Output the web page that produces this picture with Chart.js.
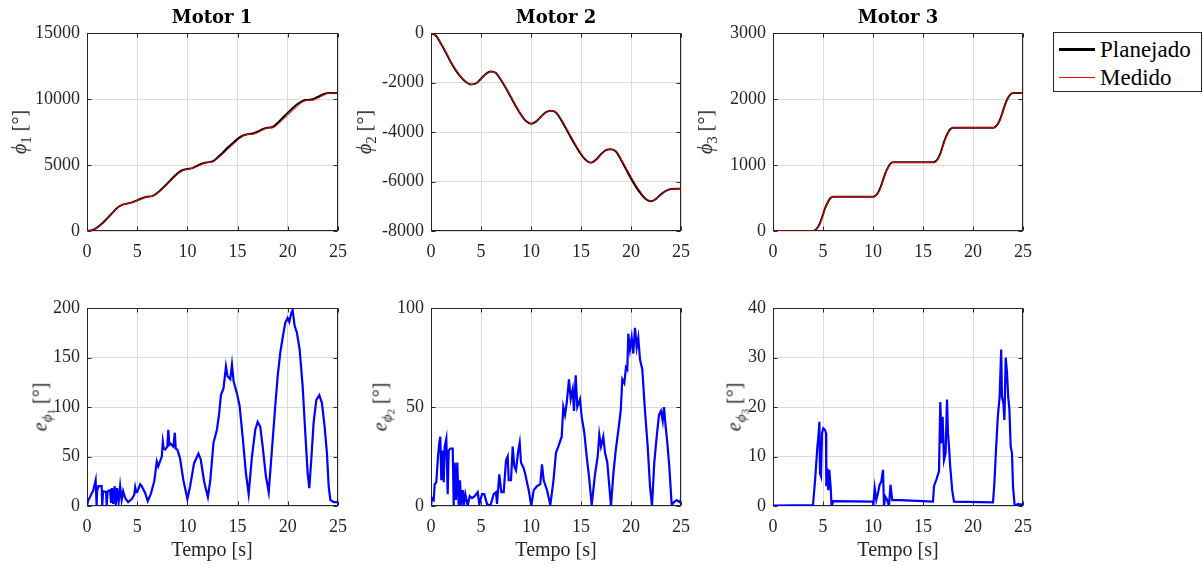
<!DOCTYPE html>
<html><head><meta charset="utf-8">
<script src="https://cdn.jsdelivr.net/npm/chart.js@4/dist/chart.umd.min.js"></script>
<style>
html,body{margin:0;padding:0;background:#fff;}
body{width:1203px;height:565px;position:relative;overflow:hidden;font-family:"Liberation Serif",serif;color:#262626;}
canvas{position:absolute;}
.lbl{position:absolute;white-space:nowrap;line-height:1;transform:translate(-50%,-50%);}
.ttl{font-family:"DejaVu Serif",serif;font-weight:bold;font-size:18px;color:#000;}
.ylab{transform:translate(-50%,-50%) rotate(-90deg);font-size:20px;}
.xlab{font-size:20px;}
sub{font-size:75%;vertical-align:-0.3em;line-height:0;}
#legend{position:absolute;left:1053px;top:32px;width:147px;height:58px;border:1px solid #262626;background:#fff;font-size:23px;color:#000;}
#legend .row{position:absolute;left:0;height:28px;width:100%;}
#legend .ln{position:absolute;left:5px;width:36px;}
#legend .tx{position:absolute;left:46px;top:50%;transform:translateY(-50%);line-height:1;}
</style></head>
<body>
<canvas id="c1" width="350" height="245" style="left:0px;top:20px"></canvas>
<canvas id="c2" width="343" height="245" style="left:350px;top:20px"></canvas>
<canvas id="c3" width="342" height="245" style="left:693px;top:20px"></canvas>
<canvas id="c4" width="350" height="245" style="left:0px;top:295px"></canvas>
<canvas id="c5" width="343" height="245" style="left:350px;top:295px"></canvas>
<canvas id="c6" width="342" height="245" style="left:693px;top:295px"></canvas>

<div class="lbl ttl" style="left:212px;top:17px">Motor 1</div>
<div class="lbl ttl" style="left:556px;top:17px">Motor 2</div>
<div class="lbl ttl" style="left:898px;top:17px">Motor 3</div>

<div class="lbl ylab" style="left:19px;top:132px"><i>ϕ</i><sub>1</sub> [°]</div>
<div class="lbl ylab" style="left:364px;top:132px"><i>ϕ</i><sub>2</sub> [°]</div>
<div class="lbl ylab" style="left:705px;top:132px"><i>ϕ</i><sub>3</sub> [°]</div>
<div class="lbl ylab" style="left:40px;top:407px"><i>e</i><sub><i>ϕ</i><sub>1</sub></sub> [°]</div>
<div class="lbl ylab" style="left:380px;top:407px"><i>e</i><sub><i>ϕ</i><sub>2</sub></sub> [°]</div>
<div class="lbl ylab" style="left:734px;top:407px"><i>e</i><sub><i>ϕ</i><sub>3</sub></sub> [°]</div>

<div class="lbl xlab" style="left:212px;top:549px">Tempo [s]</div>
<div class="lbl xlab" style="left:556px;top:549px">Tempo [s]</div>
<div class="lbl xlab" style="left:898px;top:549px">Tempo [s]</div>

<div id="legend">
  <div class="row" style="top:2px"><div class="ln" style="top:13px;height:3px;background:#000"></div><div class="tx">Planejado</div></div>
  <div class="row" style="top:30px"><div class="ln" style="top:14px;height:1px;background:#f00"></div><div class="tx">Medido</div></div>
</div>

<script>
// ---------- data ----------
const seriesNames = ['Planejado', 'Medido'];
const xTicks = [0, 5, 10, 15, 20, 25];
const yTicks1 = [0, 5000, 10000, 15000];
const yTicks2 = [-8000, -6000, -4000, -2000, 0];
const yTicks3 = [0, 1000, 2000, 3000];
const eTicks1 = [0, 50, 100, 150, 200];
const eTicks2 = [0, 50, 100];
const eTicks3 = [0, 10, 20, 30, 40];

const tPos = [0,0.5,1,1.5,2,2.5,3,3.5,4,4.5,5,5.5,6,6.5,7,7.5,8,8.5,9,9.5,10,10.5,11,11.5,12,12.5,13,13.5,14,14.5,15,15.5,16,16.5,17,17.5,18,18.5,19,19.5,20,20.5,21,21.5,22,22.5,23,23.5,24,24.5,25];

const plan1 = [0,60,250,560,950,1350,1750,1980,2080,2170,2320,2480,2590,2640,2880,3220,3600,3990,4350,4600,4690,4760,4950,5110,5200,5270,5560,5920,6300,6650,6980,7220,7330,7380,7530,7710,7820,7880,8200,8580,8960,9320,9640,9860,9930,9980,10170,10350,10450,10460,10460];
const med1  = [0,55,235,545,940,1340,1735,1970,2075,2160,2305,2465,2585,2630,2850,3170,3530,3930,4290,4570,4685,4740,4900,5070,5190,5230,5480,5810,6170,6520,6870,7150,7320,7330,7450,7650,7810,7830,8070,8420,8780,9130,9480,9780,9910,9910,10060,10260,10430,10455,10455];

const plan2 = [0,-110,-430,-800,-1190,-1520,-1780,-1980,-2080,-2040,-1850,-1650,-1560,-1620,-1900,-2230,-2600,-2970,-3300,-3560,-3670,-3580,-3380,-3200,-3140,-3210,-3500,-3860,-4230,-4580,-4900,-5140,-5240,-5120,-4900,-4730,-4700,-4790,-5120,-5500,-5880,-6220,-6500,-6720,-6800,-6700,-6520,-6380,-6300,-6290,-6290];
const med2  = [0,-100,-410,-775,-1165,-1500,-1770,-1975,-2080,-2050,-1860,-1665,-1565,-1610,-1875,-2205,-2570,-2940,-3275,-3545,-3670,-3590,-3395,-3210,-3140,-3195,-3465,-3810,-4170,-4530,-4860,-5120,-5240,-5135,-4925,-4745,-4700,-4770,-5080,-5440,-5800,-6140,-6440,-6690,-6800,-6720,-6540,-6395,-6300,-6292,-6292];

const t3 = [0,4,4.25,4.5,4.75,5,5.25,5.5,5.75,6,10,10.25,10.5,10.75,11,11.25,11.5,11.75,12,16,16.25,16.5,16.75,17,17.25,17.5,17.75,18,22,22.25,22.5,22.75,23,23.25,23.5,23.75,24,25];
const plan3 = [0,0,15,60,140,250,360,440,500,520,520,535,580,660,770,880,960,1020,1040,1040,1055,1100,1180,1300,1410,1490,1545,1565,1565,1580,1625,1705,1820,1935,2015,2070,2090,2090];
const med3  = [0,0,10,50,125,235,345,430,495,519,520,530,570,645,755,865,950,1015,1039,1040,1050,1090,1165,1285,1395,1480,1540,1564,1565,1575,1615,1690,1805,1920,2005,2065,2089,2090];

const tE1 = [0,0.1,0.3,0.63,0.86,0.96,1.0,1.13,1.46,1.52,1.6,1.9,1.96,2.05,2.3,2.4,2.5,2.6,2.76,2.86,3.0,3.15,3.3,3.45,3.6,3.8,4.1,4.45,4.7,4.8,4.9,5.0,5.3,5.45,5.8,6.05,6.35,6.7,6.95,7.1,7.2,7.45,7.55,7.65,7.8,8.0,8.1,8.2,8.3,8.6,8.75,8.84,9.0,9.27,9.6,10.0,10.27,10.66,11.1,11.33,11.66,12.04,12.28,12.6,12.94,13.17,13.34,13.6,13.84,14.0,14.27,14.44,14.6,14.93,15.2,15.53,15.83,16.1,16.43,16.76,17.0,17.26,17.5,17.82,18.1,18.42,18.75,18.99,19.25,19.52,19.75,19.98,20.15,20.35,20.48,20.68,20.91,21.18,21.48,21.74,21.98,22.14,22.34,22.57,22.84,23.14,23.4,23.67,23.9,24.07,24.24,24.57,25];
const err1 = [0,5,9,16,26,0,15,20,20,0,15,14,0,15,16,3,18,2,20,0,18,4,20,6,15,8,4,7,11,19,14,14,22,20,13,5,12,25,45,40,43,50,65,58,57,60,77,62,63,60,74,58,57,48,26,7,20,43,53,47,25,9,26,64,77,94,112,119,141,131,128,143,126,114,101,67,33,12,50,77,85,80,60,30,14,57,101,131,155,172,185,190,186,195,198,182,175,158,121,74,33,18,47,84,107,112,104,80,53,20,6,4,4];

const tE2 = [0,0.1,0.27,0.37,0.53,0.7,0.83,0.93,1.03,1.17,1.27,1.37,1.53,1.67,1.77,1.93,2.17,2.27,2.37,2.5,2.63,2.77,2.9,3.03,3.17,3.3,3.43,3.67,3.87,4.1,4.37,4.67,4.83,5.1,5.33,5.6,5.93,6.27,6.5,6.6,6.83,7.03,7.27,7.5,7.67,7.77,8.0,8.17,8.33,8.5,8.7,8.87,9.0,9.27,9.43,9.77,10.03,10.27,10.6,10.93,11.1,11.27,11.6,11.93,12.23,12.5,12.73,13.07,13.23,13.4,13.57,13.8,13.97,14.17,14.3,14.47,14.63,14.9,15.07,15.33,15.57,15.8,16.07,16.4,16.67,16.83,17.0,17.23,17.4,17.63,17.83,18.0,18.23,18.47,18.73,18.97,19.13,19.33,19.5,19.63,19.73,19.9,20.07,20.23,20.4,20.57,20.73,20.9,21.13,21.4,21.67,21.9,22.1,22.33,22.57,22.8,23.0,23.17,23.3,23.47,23.63,23.83,24.07,24.3,24.57,24.83,25];
const err2 = [0,4,3,11,12,25,32,35,13,28,12,30,34,6,28,29,29,0.5,22,3,22,0,13,0,8,1,6,0,5,4,5,7,1,6,6,1,0,6,7,1,16,7,7,23,25,13,13,30,20,18,27,32,22,19,16,8,0,8,10,11,21,13,8,0.5,12,27,30,35,50,46,52,64,54,59,48,66,50,54,45,37,25,15,0.5,16,25,36,30,35,27,22,10,0,16,28,38,48,64,62,70,69,87,79,85,77,90,80,85,74,69,48,30,10,0,22,35,46,48,43,50,40,32,20,0.5,2,3,2,3];

const tE3 = [0,4.0,4.2,4.44,4.54,4.64,4.7,4.8,4.9,5.03,5.2,5.3,5.33,5.43,5.53,5.63,5.76,5.86,6.03,10.0,10.03,10.17,10.33,10.5,10.66,10.83,11.0,11.1,11.22,11.42,11.6,11.75,11.92,12.15,12.67,15.0,16.0,16.1,16.33,16.6,16.73,16.86,16.96,17.1,17.26,17.4,17.5,17.6,17.72,17.92,18.1,22.0,22.14,22.3,22.48,22.66,22.82,22.9,23.04,23.14,23.27,23.4,23.52,23.64,23.77,23.9,24.0,24.17,24.47,25];
const err3 = [0.1,0.2,5,12,14,17,6.6,6,14.7,15.7,15.4,14.7,4,7.6,3.2,7.3,4,0,1,0.9,0,3.6,1.2,2.6,4.3,4.9,7.3,0,1.9,1.2,0,4.3,1.2,1.2,1.2,1,0.9,4,5.3,7,21,12.7,18,9.3,10.7,21.5,14.7,12,8,3.2,0.9,0.75,4.6,11.3,18,22,31.6,22,20.8,17.4,30,27,22,19.5,12,10.7,4,0,0.4,0.3];

// ---------- drawing ----------
const INK = '#262626';
const TICK_FONT = {family: "'Liberation Serif', 'Times New Roman', serif", size: 18};
const boxPlugin = {
  id: 'matlabBox',
  beforeDatasetsDraw(chart) {
    const {ctx, chartArea: a, scales} = chart;
    ctx.save();
    ctx.strokeStyle = INK; ctx.lineWidth = 1;
    const L = Math.round(a.left) + 0.5, R = Math.round(a.right) - 0.5;
    const T = Math.round(a.top) + 0.5, B = Math.round(a.bottom) - 0.5;
    ctx.strokeRect(L, T, R - L, B - T);
    ctx.beginPath();
    scales.x.ticks.forEach(t => {
      const p = Math.round(scales.x.getPixelForValue(t.value)) + 0.5;
      ctx.moveTo(p, B); ctx.lineTo(p, B - 4);
      ctx.moveTo(p, T); ctx.lineTo(p, T + 4);
    });
    scales.y.ticks.forEach(t => {
      const p = Math.round(scales.y.getPixelForValue(t.value)) + 0.5;
      ctx.moveTo(L, p); ctx.lineTo(L + 4, p);
      ctx.moveTo(R, p); ctx.lineTo(R - 4, p);
    });
    ctx.stroke();
    ctx.restore();
  }
};

function pts(t, v) { return t.map((x, i) => ({x: x, y: v[i]})); }

function makeChart(id, datasets, yMin, yMax, yTicks, yWidth) {
  new Chart(document.getElementById(id), {
    type: 'line',
    data: {datasets: datasets},
    options: {
      responsive: false, animation: false, devicePixelRatio: 1,
      layout: {padding: {top: 13, right: 12, bottom: 0, left: 0}},
      plugins: {legend: {display: false}, tooltip: {enabled: false}, title: {display: false}},
      elements: {point: {radius: 0}},
      scales: {
        x: {
          type: 'linear', min: 0, max: 25,
          afterBuildTicks: s => { s.ticks = xTicks.map(v => ({value: v})); },
          afterFit: s => { s.height = 34; s.paddingLeft = 0; s.paddingRight = 0; },
          grid: {color: '#dadada', drawTicks: false},
          border: {display: false},
          ticks: {color: INK, font: TICK_FONT, padding: 10, maxRotation: 0, autoSkip: false, callback: v => String(v)}
        },
        y: {
          type: 'linear', min: yMin, max: yMax,
          afterBuildTicks: s => { s.ticks = yTicks.map(v => ({value: v})); },
          afterFit: s => { s.width = yWidth; s.paddingTop = 0; s.paddingBottom = 0; },
          grid: {color: '#dadada', drawTicks: false},
          border: {display: false},
          ticks: {color: INK, font: TICK_FONT, padding: 7, autoSkip: false, callback: v => String(v)}
        }
      }
    },
    plugins: [boxPlugin]
  });
}

function posSets(t, plan, med) {
  return [
    {label: seriesNames[0], data: pts(t, plan), borderColor: '#000000', borderWidth: 2, cubicInterpolationMode: 'monotone', order: 1},
    {label: seriesNames[1], data: pts(t, med), borderColor: '#ff0000', borderWidth: 1, cubicInterpolationMode: 'monotone', order: 0}
  ];
}
function errSet(t, e) {
  return [{label: 'erro', data: pts(t, e), borderColor: '#0000ff', borderWidth: 2.2, tension: 0}];
}

function drawAll() {
  makeChart('c1', posSets(tPos, plan1, med1), 0, 15000, yTicks1, 87);
  makeChart('c2', posSets(tPos, plan2, med2), -8000, 0, yTicks2, 81);
  makeChart('c3', posSets(t3, plan3, med3), 0, 3000, yTicks3, 80);
  makeChart('c4', errSet(tE1, err1), 0, 200, eTicks1, 87);
  makeChart('c5', errSet(tE2, err2), 0, 100, eTicks2, 81);
  makeChart('c6', errSet(tE3, err3), 0, 40, eTicks3, 80);
}
if (document.fonts && document.fonts.load) {
  Promise.all([document.fonts.load("18px 'Liberation Serif'"), document.fonts.ready]).then(drawAll, drawAll);
} else { drawAll(); }
</script>
</body></html>
